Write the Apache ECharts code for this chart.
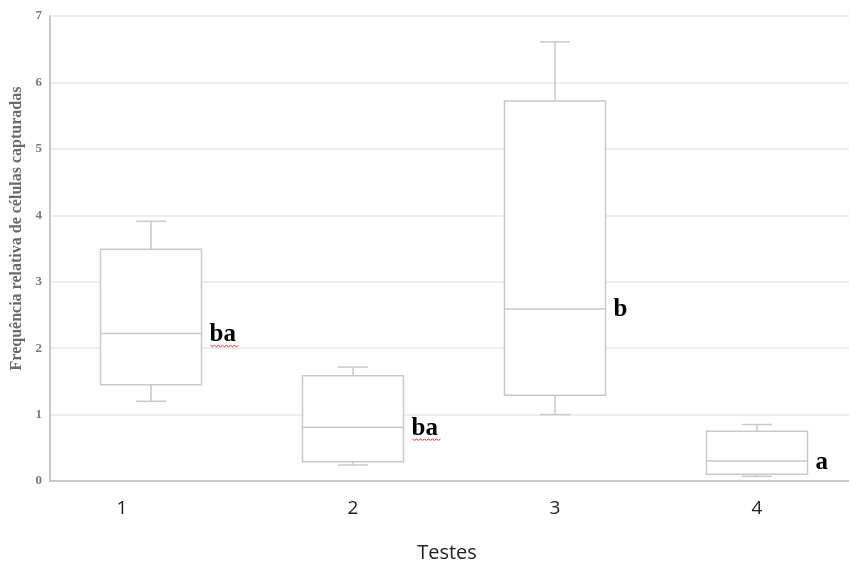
<!DOCTYPE html>
<html>
<head>
<meta charset="utf-8">
<script src="https://cdn.jsdelivr.net/npm/echarts@6/dist/echarts.min.js"></script>
<style>html,body{margin:0;padding:0;background:#fff}#c{width:849px;height:565px}</style>
</head>
<body>
<div id="c"></div>
<script>
var categories = ['1', '2', '3', '4'];
var minVals    = [1.20, 0.24, 1.00, 0.07];
var q1Vals     = [1.45, 0.29, 1.29, 0.10];
var medianVals = [2.22, 0.81, 2.59, 0.30];
var q3Vals     = [3.49, 1.585, 5.72, 0.75];
var maxVals    = [3.91, 1.715, 6.61, 0.85];
var groupLetters = ['ba', 'ba', 'b', 'a'];
var spellMark  = [1, 1, 0, 0];
var yTicks = [0, 1, 2, 3, 4, 5, 6, 7];

var data = categories.map(function (c, i) {
  return [i, minVals[i], q1Vals[i], medianVals[i], q3Vals[i], maxVals[i], spellMark[i]];
});

var boxColor = '#c9c9c9';

function renderItem(params, api) {
  var idx = api.value(0);
  var band = api.size([1, 0])[0];
  var halfBox = band * 0.25;
  var halfCap = band * 0.075;
  var pMin = api.coord([idx, api.value(1)]);
  var pQ1 = api.coord([idx, api.value(2)]);
  var pMed = api.coord([idx, api.value(3)]);
  var pQ3 = api.coord([idx, api.value(4)]);
  var pMax = api.coord([idx, api.value(5)]);
  var cx = pMed[0];
  var st = { stroke: boxColor, lineWidth: 1.5, fill: null };
  var children = [
    { type: 'rect', shape: { x: cx - halfBox, y: pQ3[1], width: halfBox * 2, height: pQ1[1] - pQ3[1] }, style: { stroke: boxColor, lineWidth: 1.5, fill: '#fff' } },
    { type: 'line', shape: { x1: cx - halfBox, y1: pMed[1], x2: cx + halfBox, y2: pMed[1] }, style: st },
    { type: 'line', shape: { x1: cx, y1: pQ3[1], x2: cx, y2: pMax[1] }, style: st },
    { type: 'line', shape: { x1: cx - halfCap, y1: pMax[1], x2: cx + halfCap, y2: pMax[1] }, style: st },
    { type: 'line', shape: { x1: cx, y1: pQ1[1], x2: cx, y2: pMin[1] }, style: st },
    { type: 'line', shape: { x1: cx - halfCap, y1: pMin[1], x2: cx + halfCap, y2: pMin[1] }, style: st },
    { type: 'text', style: { x: cx + halfBox + 8, y: pMed[1] + 1, text: groupLetters[idx], fill: '#000',
      font: 'bold 25px "Liberation Serif", "DejaVu Serif", serif', textAlign: 'left', textVerticalAlign: 'middle' } }
  ];
  if (api.value(6)) {
    var sx = cx + halfBox + 9, sy = pMed[1] + 12, pts = [];
    for (var k = 0; k <= 14; k++) { pts.push([sx + k * 2, sy + (k % 2 ? 1.2 : -0.2)]); }
    children.push({ type: 'polyline', shape: { points: pts }, style: { stroke: '#e03030', lineWidth: 1, fill: null } });
  }
  return { type: 'group', children: children };
}

var chart = echarts.init(document.getElementById('c'), null, { renderer: 'canvas' });
chart.setOption({
  animation: false,
  backgroundColor: '#fff',
  grid: { left: 50, top: 16, width: 808, height: 465, containLabel: false, outerBoundsMode: 'none' },
  xAxis: {
    type: 'category',
    data: categories,
    boundaryGap: true,
    axisLine: { show: true, lineStyle: { color: '#c8c8c8', width: 2 } },
    axisTick: { show: false },
    axisLabel: {
      margin: 18,
      fontFamily: '"Open Sans", "Noto Sans", sans-serif',
      fontSize: 19,
      color: '#222',
      formatter: function (v, i) { return i === 0 ? '{p|' + v + '}' : v; },
      rich: { p: { padding: [0, 58, 0, 0], fontFamily: '"Open Sans", "Noto Sans", sans-serif', fontSize: 19, color: '#222' } }
    },
    name: 'Testes',
    nameLocation: 'middle',
    nameGap: 62,
    nameTextStyle: { fontFamily: '"Open Sans", "Noto Sans", sans-serif', fontSize: 20, color: '#222', padding: [0, 14, 0, 0] }
  },
  yAxis: {
    type: 'value',
    min: yTicks[0],
    max: yTicks[yTicks.length - 1],
    interval: 1,
    axisLine: { show: true, lineStyle: { color: '#c8c8c8', width: 2 } },
    axisTick: { show: false },
    splitLine: { show: true, lineStyle: { color: '#e8e8e8', width: 1.5 } },
    axisLabel: {
      margin: 8,
      fontFamily: '"Liberation Serif", "DejaVu Serif", serif',
      fontWeight: 'bold',
      fontSize: 13,
      color: '#7a7a7a'
    },
    name: 'Frequência relativa de células capturadas',
    nameLocation: 'middle',
    nameGap: 22,
    nameTextStyle: {
      fontFamily: '"Liberation Serif", "DejaVu Serif", serif',
      fontWeight: 'bold',
      fontSize: 16,
      color: '#6a6a6a',
      padding: [0, 0, 0, 40]
    }
  },
  series: [{
    type: 'custom',
    renderItem: renderItem,
    data: data,
    encode: { x: 0, y: [1, 2, 3, 4, 5] },
    clip: false
  }]
});
</script>
</body>
</html>
